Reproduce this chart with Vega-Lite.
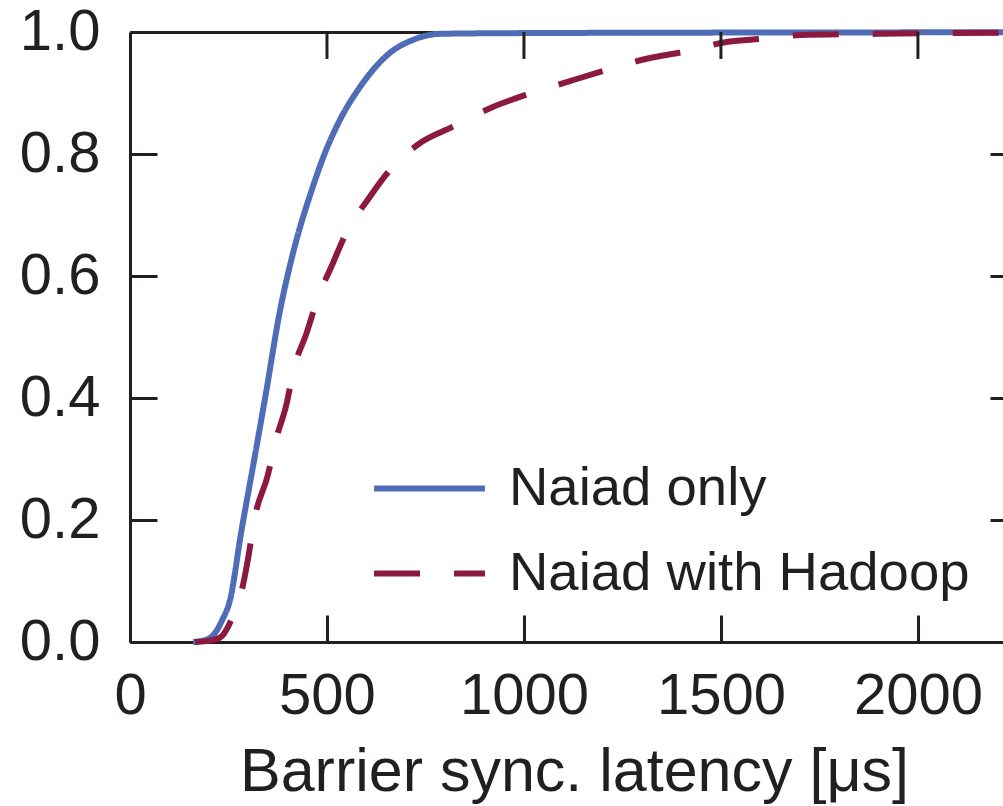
{
  "$schema": "https://vega.github.io/schema/vega-lite/v6.json",
  "width": 873,
  "height": 610,
  "autosize": {"type": "none"},
  "padding": {"left": 130, "top": 32, "right": 0, "bottom": 164},
  "background": "white",
  "config": {
    "view": {"stroke": null},
    "font": "Liberation Sans",
    "axis": {"domainColor": "#231f20", "tickColor": "#231f20", "labelColor": "#231f20", "titleColor": "#231f20", "domainWidth": 3, "tickWidth": 3, "grid": false, "zindex": 1, "labelFontWeight": "normal", "titleFontWeight": "normal"}
  },
  "data": {
    "values": [
      {"series": "Naiad only", "x": 160, "y": 0},
      {"series": "Naiad only", "x": 190, "y": 0.003},
      {"series": "Naiad only", "x": 216, "y": 0.015},
      {"series": "Naiad only", "x": 234, "y": 0.036},
      {"series": "Naiad only", "x": 254, "y": 0.069},
      {"series": "Naiad only", "x": 282, "y": 0.179},
      {"series": "Naiad only", "x": 312, "y": 0.287},
      {"series": "Naiad only", "x": 343, "y": 0.4},
      {"series": "Naiad only", "x": 381, "y": 0.544},
      {"series": "Naiad only", "x": 414, "y": 0.638},
      {"series": "Naiad only", "x": 464, "y": 0.746},
      {"series": "Naiad only", "x": 495, "y": 0.802},
      {"series": "Naiad only", "x": 533, "y": 0.856},
      {"series": "Naiad only", "x": 584, "y": 0.91},
      {"series": "Naiad only", "x": 660, "y": 0.966},
      {"series": "Naiad only", "x": 718, "y": 0.987},
      {"series": "Naiad only", "x": 787, "y": 0.997},
      {"series": "Naiad only", "x": 939, "y": 0.998},
      {"series": "Naiad only", "x": 1500, "y": 0.999},
      {"series": "Naiad only", "x": 2216, "y": 0.9995},
      {"series": "Naiad with Hadoop", "x": 165, "y": 0},
      {"series": "Naiad with Hadoop", "x": 190, "y": 0.001},
      {"series": "Naiad with Hadoop", "x": 228, "y": 0.007},
      {"series": "Naiad with Hadoop", "x": 259, "y": 0.039},
      {"series": "Naiad with Hadoop", "x": 284, "y": 0.085},
      {"series": "Naiad with Hadoop", "x": 299, "y": 0.134},
      {"series": "Naiad with Hadoop", "x": 317, "y": 0.205},
      {"series": "Naiad with Hadoop", "x": 350, "y": 0.274},
      {"series": "Naiad with Hadoop", "x": 368, "y": 0.326},
      {"series": "Naiad with Hadoop", "x": 398, "y": 0.392},
      {"series": "Naiad with Hadoop", "x": 414, "y": 0.443},
      {"series": "Naiad with Hadoop", "x": 449, "y": 0.508},
      {"series": "Naiad with Hadoop", "x": 475, "y": 0.561},
      {"series": "Naiad with Hadoop", "x": 515, "y": 0.621},
      {"series": "Naiad with Hadoop", "x": 546, "y": 0.667},
      {"series": "Naiad with Hadoop", "x": 609, "y": 0.73},
      {"series": "Naiad with Hadoop", "x": 655, "y": 0.77},
      {"series": "Naiad with Hadoop", "x": 741, "y": 0.82},
      {"series": "Naiad with Hadoop", "x": 817, "y": 0.844},
      {"series": "Naiad with Hadoop", "x": 921, "y": 0.877},
      {"series": "Naiad with Hadoop", "x": 1005, "y": 0.897},
      {"series": "Naiad with Hadoop", "x": 1119, "y": 0.92},
      {"series": "Naiad with Hadoop", "x": 1201, "y": 0.936},
      {"series": "Naiad with Hadoop", "x": 1317, "y": 0.957},
      {"series": "Naiad with Hadoop", "x": 1401, "y": 0.967},
      {"series": "Naiad with Hadoop", "x": 1518, "y": 0.984},
      {"series": "Naiad with Hadoop", "x": 1607, "y": 0.989},
      {"series": "Naiad with Hadoop", "x": 1701, "y": 0.995},
      {"series": "Naiad with Hadoop", "x": 1904, "y": 0.997},
      {"series": "Naiad with Hadoop", "x": 2216, "y": 0.999}
    ]
  },
  "layer": [
    {
      "mark": {"type": "line", "strokeWidth": 6, "interpolate": "monotone"},
      "encoding": {
        "x": {
          "field": "x", "type": "quantitative",
          "scale": {"domain": [0, 2216], "nice": false, "zero": false},
          "axis": {
            "orient": "bottom", "values": [0, 500, 1000, 1500, 2000], "format": "d",
            "tickSize": -27, "labelPadding": 52, "labelFontSize": 58, "labelFlush": false,
            "title": "Barrier sync. latency [μs]", "titleFontSize": 61,
            "titleBaseline": "alphabetic", "titleAlign": "center", "titleX": 444, "titleY": 148
          }
        },
        "y": {
          "field": "y", "type": "quantitative",
          "scale": {"domain": [0, 1], "nice": false},
          "axis": {
            "orient": "left", "values": [0, 0.2, 0.4, 0.6, 0.8, 1.0], "format": ".1f",
            "tickSize": -27, "labelPadding": 57, "labelFontSize": 58, "labelFlush": false,
            "title": null
          }
        },
        "color": {
          "field": "series", "type": "nominal",
          "scale": {"domain": ["Naiad only", "Naiad with Hadoop"], "range": ["#4f6db6", "#8c1a40"]},
          "legend": {
            "orient": "none", "legendX": 241, "legendY": 398, "title": null,
            "symbolType": "stroke", "symbolSize": 12300, "symbolStrokeWidth": 6,
            "labelFontSize": 54.5, "labelColor": "#231f20", "labelOffset": 21,
            "rowPadding": -11, "padding": 0, "labelLimit": 600
          }
        },
        "strokeDash": {
          "field": "series", "type": "nominal",
          "scale": {"domain": ["Naiad only", "Naiad with Hadoop"], "range": [[1, 0], [46, 34]]},
          "legend": null
        }
      }
    },
    {
      "mark": {"type": "point", "opacity": 0},
      "encoding": {
        "x": {
          "field": "x", "type": "quantitative",
          "axis": {
            "orient": "top", "labels": false, "ticks": false, "domain": true, "title": null
          }
        },
        "y": {
          "field": "y", "type": "quantitative",
          "axis": {
            "orient": "right", "values": [0.2, 0.4, 0.6, 0.8], "labels": false, "domain": false,
            "tickSize": -13, "title": null
          }
        }
      }
    },
    {
      "data": {"values": [{"t": 500}, {"t": 1000}, {"t": 1500}, {"t": 2000}]},
      "mark": {"type": "tick", "color": "#231f20", "orient": "vertical", "thickness": 3, "size": 27, "opacity": 1},
      "encoding": {
        "x": {"field": "t", "type": "quantitative", "axis": null},
        "y": {"datum": 0.978, "type": "quantitative", "axis": null}
      }
    }
  ],
  "resolve": {"axis": {"x": "independent", "y": "independent"}}
}
